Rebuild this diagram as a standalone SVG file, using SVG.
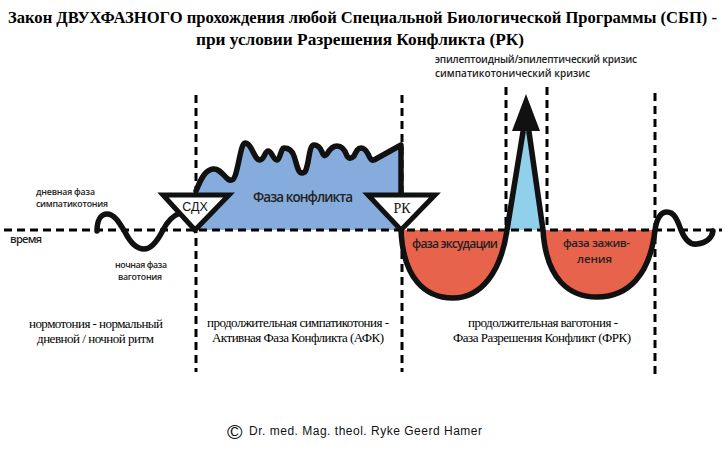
<svg xmlns="http://www.w3.org/2000/svg" width="727" height="453" viewBox="0 0 727 453">
<style>
.title{font-family:"Liberation Serif",serif;font-weight:bold;font-size:16px;fill:#000}
.ser{font-family:"Liberation Serif",serif;font-size:13px;fill:#000}
.lab{font-family:"Open Sans","Noto Sans",sans-serif;font-weight:600;fill:#222}
.dash{stroke:#000;stroke-width:3;stroke-dasharray:8 5;fill:none}
.vd{stroke:#000;stroke-width:3;stroke-dasharray:8 5;fill:none}
.curve{stroke:#111;stroke-width:5.5;fill:none;stroke-linecap:round;stroke-linejoin:round}
.tri{fill:#fff;stroke:#111;stroke-width:5;stroke-linejoin:miter}
</style>
<rect width="727" height="453" fill="#fff"/>

<g id="title">
<text class="title" x="8" y="23" textLength="709" lengthAdjust="spacingAndGlyphs">Закон ДВУХФАЗНОГО прохождения любой Специальной Биологической Программы (СБП) -</text>
<text class="title" x="196" y="45" textLength="328" lengthAdjust="spacingAndGlyphs">при условии Разрешения Конфликта (РК)</text>
</g>

<g id="fills">
<path id="blue-fill" fill="#85ACDD" d="M196,230 L196,190 C202,176 206,170 213,169 C222,168 226,182 232,180 C238,178 240,143 245,143 C252,143 254,160 260,160 C264,160 265,151 268,151 C272,151 273,160 277,160 C280,160 281,148 284,148 C288,148 292,150 294,156 C297,165 298,173 302,173 C306,173 306,170 308,162 C310,150 311,145 314,145 C318,145 320,147 322,152 C324,157 325,156 327,154 C331,147 334,146 337,146 C342,146 345,150 347,156 C349,159 351,159 354,156 C357,150 358,148 361,148 C364,148 366,150 368,154 C370,158 371,161 374,160 L401,145 L401,230 Z"/>
<path id="red-fill-1" fill="#E8634C" d="M401,230 C403,278 425,298 453,298 C481,298 501,272 507,230 Z"/>
<path id="red-fill-2" fill="#E8634C" d="M543,230 C546,280 570,297 597,297 C628,297 650,275 655,230 Z"/>
<path id="spike-fill" fill="#90D0EA" d="M507,230 L524,130 L529,130 L543,230 Z"/>
</g>

<g id="connectors">
<line class="dash" x1="4" y1="230" x2="722" y2="230"/>
<line class="vd" x1="196" y1="95" x2="196" y2="372"/>
<line class="vd" x1="402" y1="95" x2="402" y2="372"/>
<line class="vd" x1="506" y1="87" x2="506" y2="228"/>
<line class="vd" x1="547" y1="87" x2="547" y2="228"/>
<line class="vd" x1="655" y1="93" x2="655" y2="377"/>

<path class="curve" d="M97,231 C97,220 101,214 107,214 C115,214 120,224 125,232 C130,242 136,249 144,249 C152,249 158,240 163,230 C167,222 172,216 180,213"/>
<path class="curve" d="M196,191 C202,176 206,170 213,169 C222,168 226,182 232,180 C238,178 240,143 245,143 C252,143 254,160 260,160 C264,160 265,151 268,151 C272,151 273,160 277,160 C280,160 281,148 284,148 C288,148 292,150 294,156 C297,165 298,173 302,173 C306,173 306,170 308,162 C310,150 311,145 314,145 C318,145 320,147 322,152 C324,157 325,156 327,154 C331,147 334,146 337,146 C342,146 345,150 347,156 C349,159 351,159 354,156 C357,150 358,148 361,148 C364,148 366,150 368,154 C370,158 371,161 374,160 L401,145 L401,196"/>
<path class="curve" d="M401,230 C403,278 425,298 453,298 C481,298 501,272 507,230 L523,132"/>
<path class="curve" d="M529,132 L543,230 C546,280 570,297 597,297 C628,297 650,275 655,230 C657,217 662,212 667,212 C675,212 678,222 681,230 C685,240 690,245 697,244 C706,243 712,238 713,231"/>
<path id="arrowhead" fill="#111" d="M526,94 L540,131 L512,131 Z"/>
</g>

<g id="node-sdx">
<path class="tri" d="M163,195 L229,195 L195,230 Z"/>
<text x="195" y="211" text-anchor="middle" font-family="Liberation Sans,Arial,sans-serif" font-size="12.5" fill="#111">СДХ</text>
</g>
<g id="node-rk">
<path class="tri" d="M368,195 L435,195 L401,230 Z"/>
<text x="402" y="213" text-anchor="middle" font-family="Liberation Serif,serif" font-size="14" fill="#111">РК</text>
</g>

<g id="labels">
<text class="lab" x="36" y="195" font-size="8.8" textLength="59">дневная фаза</text>
<text class="lab" x="36" y="207" font-size="8.8" textLength="72">симпатикотония</text>
<text class="lab" x="10" y="243" font-size="11" font-weight="bold" textLength="32">время</text>
<text class="lab" x="115" y="268" font-size="8.8" textLength="52">ночная фаза</text>
<text class="lab" x="118" y="280" font-size="8.8" textLength="44">ваготония</text>
<text class="lab" x="253" y="202" font-size="13.5" font-weight="normal" textLength="100">Фаза конфликта</text>
<text class="lab" x="412" y="248" font-size="12" textLength="86">фаза эксудации</text>
<text class="lab" x="563" y="247" font-size="11.5" textLength="67">фаза зажив-</text>
<text class="lab" x="577" y="263" font-size="11.5" textLength="35">ления</text>
<text class="lab" x="435" y="63" font-size="10" font-weight="normal" textLength="202">эпилептоидный/эпилептический кризис</text>
<text class="lab" x="435" y="77" font-size="10" font-weight="bold" textLength="155">симпатикотонический кризис</text>
</g>

<g id="bottom-texts">
<text class="ser" x="29" y="328" textLength="134">нормотония - нормальный</text>
<text class="ser" x="37" y="343" textLength="117">дневной / ночной ритм</text>
<text class="ser" x="207" y="327" textLength="182">продолжительная симпатикотония -</text>
<text class="ser" x="212" y="342" textLength="172">Активная Фаза Конфликта (АФК)</text>
<text class="ser" x="468" y="327" textLength="150">продолжительная ваготония -</text>
<text class="ser" x="453" y="342" textLength="178">Фаза Разрешения Конфликт (ФРК)</text>
</g>

<g id="copyright">
<text x="227" y="439" font-family="Liberation Sans,Arial,sans-serif" font-size="21" fill="#111">©</text>
<text x="249" y="435" font-family="Liberation Sans,Arial,sans-serif" font-size="12" fill="#111" textLength="233">Dr. med. Mag. theol. Ryke Geerd Hamer</text>
</g>
</svg>
